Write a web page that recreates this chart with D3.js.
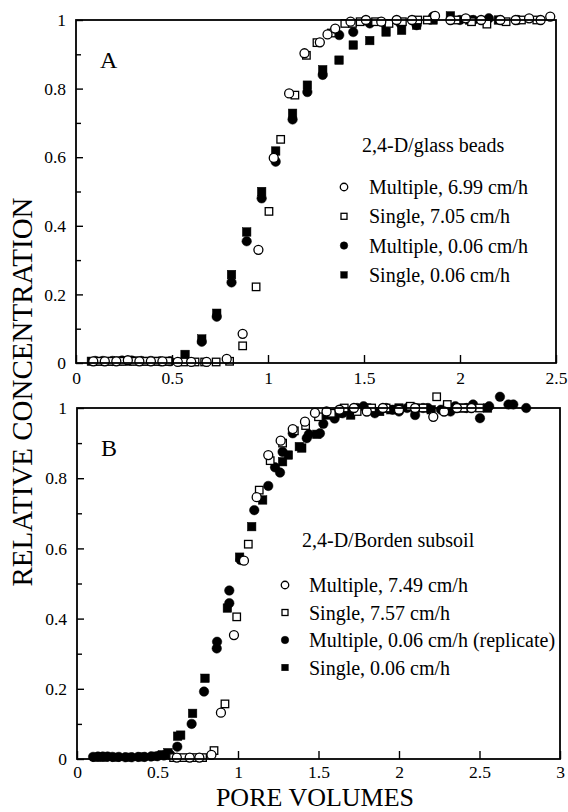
<!DOCTYPE html>
<html><head><meta charset="utf-8">
<script src="https://cdn.jsdelivr.net/npm/d3@7"></script>
<style>
body{margin:0;background:#fff;}
svg{display:block;font-family:"Liberation Serif","Times New Roman",serif;}
</style></head>
<body><svg id="c" width="568" height="812"></svg>
<script>
// ---------- data ----------
const yTickValues = [0, 0.2, 0.4, 0.6, 0.8, 1];
const yMinorValues = [0.1, 0.3, 0.5, 0.7, 0.9];
const xTickValuesA = [0, 0.5, 1, 1.5, 2, 2.5];
const xTickValuesB = [0, 0.5, 1, 1.5, 2, 2.5, 3];
const seriesNames = ["Multiple (fast)", "Single (fast)", "Multiple (slow)", "Single (slow)"];
const legendA = ["Multiple, 6.99 cm/h", "Single, 7.05 cm/h", "Multiple, 0.06 cm/h", "Single, 0.06 cm/h"];
const legendB = ["Multiple, 7.49 cm/h", "Single, 7.57 cm/h", "Multiple, 0.06 cm/h (replicate)", "Single, 0.06 cm/h"];
const titleA = "2,4-D/glass beads";
const titleB = "2,4-D/Borden subsoil";

const aMultFast = [[0.09,0.005],[0.15,0.005],[0.21,0.005],[0.27,0.008],[0.33,0.005],[0.39,0.005],[0.45,0.005],[0.53,0.003],[0.6,0.003],[0.68,0.003],[0.785,0.012],[0.868,0.085],[0.95,0.33],[1.03,0.598],[1.11,0.786],[1.19,0.903],[1.27,0.935],[1.31,0.958],[1.35,0.975],[1.43,0.995],[1.51,1.0],[1.59,0.995],[1.67,1.0],[1.75,1.0],[1.87,1.012],[1.95,1.0],[2.03,1.005],[2.11,1.0],[2.21,1.0],[2.29,1.0],[2.36,1.005],[2.42,1.0],[2.47,1.01]];
const aSingFast = [[0.12,0.005],[0.18,0.005],[0.24,0.005],[0.3,0.005],[0.36,0.005],[0.42,0.005],[0.48,0.005],[0.56,0.003],[0.62,0.003],[0.67,0.003],[0.73,0.003],[0.8,0.005],[0.868,0.05],[0.938,0.222],[1.005,0.442],[1.066,0.652],[1.14,0.781],[1.2,0.897],[1.255,0.934],[1.33,0.962],[1.4,0.99],[1.44,0.99],[1.48,0.995],[1.56,0.995],[1.63,0.99],[1.7,0.995],[1.78,1.0],[1.83,1.0],[1.98,1.0],[2.06,0.995],[2.14,0.988],[2.24,0.995],[2.32,1.0],[2.4,1.0]];
const aMultSlow = [[0.1,0.006],[0.14,0.006],[0.19,0.006],[0.24,0.007],[0.29,0.007],[0.34,0.006],[0.39,0.006],[0.44,0.005],[0.49,0.005],[0.655,0.062],[0.733,0.135],[0.81,0.235],[0.889,0.355],[0.967,0.48],[1.04,0.587],[1.128,0.71],[1.205,0.79],[1.285,0.84],[1.371,0.956],[1.444,0.965],[1.53,0.99],[1.61,0.988],[1.69,0.99],[1.774,0.985],[1.86,1.01],[2.0,1.0],[2.07,1.0],[2.15,1.005],[2.3,1.0]];
const aSingSlow = [[0.08,0.005],[0.12,0.005],[0.17,0.005],[0.22,0.006],[0.27,0.006],[0.32,0.006],[0.37,0.005],[0.42,0.005],[0.47,0.005],[0.568,0.025],[0.655,0.07],[0.733,0.145],[0.81,0.258],[0.889,0.382],[0.967,0.5],[1.04,0.618],[1.128,0.728],[1.205,0.81],[1.285,0.855],[1.37,0.883],[1.444,0.927],[1.53,0.94],[1.615,0.965],[1.696,0.97],[1.774,0.985],[1.86,1.0],[1.95,1.012],[2.05,1.0],[2.2,1.0]];

const bMultFast = [[0.62,0.004],[0.7,0.004],[0.76,0.004],[0.835,0.012],[0.894,0.132],[0.975,0.353],[1.037,0.565],[1.116,0.746],[1.188,0.866],[1.265,0.907],[1.34,0.94],[1.416,0.961],[1.478,0.986],[1.55,0.99],[1.63,0.995],[1.72,1.0],[1.8,0.99],[1.9,1.0],[2.0,0.995],[2.1,1.0],[2.213,0.975],[2.28,0.99],[2.36,1.0],[2.45,1.0]];
const bSingFast = [[0.6,0.004],[0.66,0.004],[0.72,0.004],[0.78,0.004],[0.851,0.024],[0.919,0.157],[0.992,0.405],[1.064,0.612],[1.132,0.766],[1.2,0.85],[1.277,0.9],[1.35,0.935],[1.42,0.95],[1.5,0.975],[1.58,0.985],[1.66,1.0],[1.74,0.99],[1.83,1.0],[1.92,1.0],[2.07,1.005],[2.15,1.0],[2.234,1.032],[2.3,1.01],[2.4,1.0],[2.5,1.0]];
const bMultSlow = [[0.1,0.006],[0.13,0.007],[0.16,0.007],[0.19,0.007],[0.22,0.006],[0.26,0.006],[0.3,0.005],[0.34,0.005],[0.38,0.006],[0.42,0.006],[0.46,0.007],[0.5,0.008],[0.54,0.01],[0.58,0.012],[0.623,0.035],[0.712,0.1],[0.789,0.192],[0.868,0.315],[0.87,0.334],[0.946,0.444],[0.946,0.48],[1.016,0.567],[1.101,0.709],[1.188,0.778],[1.23,0.831],[1.261,0.816],[1.277,0.875],[1.34,0.928],[1.427,0.914],[1.44,0.925],[1.509,0.928],[1.53,0.955],[1.6,0.97],[1.65,0.985],[1.7,0.99],[1.74,1.0],[1.78,1.005],[1.85,0.985],[1.92,1.0],[1.96,0.995],[2.0,0.99],[2.05,1.0],[2.1,0.98],[2.15,1.0],[2.18,1.0],[2.26,0.995],[2.32,0.99],[2.35,1.005],[2.42,1.0],[2.46,1.01],[2.503,0.971],[2.56,1.005],[2.627,1.032],[2.68,1.01],[2.71,1.01],[2.79,1.0]];
const bSingSlow = [[0.12,0.005],[0.17,0.005],[0.24,0.005],[0.32,0.005],[0.4,0.006],[0.48,0.008],[0.53,0.012],[0.565,0.018],[0.625,0.065],[0.644,0.068],[0.718,0.13],[0.795,0.23],[0.934,0.43],[1.01,0.575],[1.085,0.662],[1.153,0.738],[1.277,0.847],[1.313,0.866],[1.381,0.89],[1.396,0.886],[1.49,0.925],[1.551,0.98],[1.62,0.985],[1.7,0.98],[1.8,1.0],[1.88,0.99],[1.95,0.995],[2.0,1.0],[2.1,1.0],[2.2,0.995],[2.3,1.0],[2.4,1.0],[2.55,1.0]];

// ---------- drawing ----------
const svg = d3.select("#c");
const markerKinds = [
  {shape: "circle", fill: false},
  {shape: "square", fill: false},
  {shape: "circle", fill: true},
  {shape: "square", fill: true}
];

function drawMarker(g, kind, x, y, size) {
  if (kind.shape === "circle") {
    g.append("circle").attr("cx", x).attr("cy", y).attr("r", size / 2)
      .attr("fill", kind.fill ? "#000" : "#fff").attr("stroke", "#000")
      .attr("stroke-width", kind.fill ? 0.5 : 1.3);
  } else {
    const s = kind.fill ? size - 1 : size - 1.5;
    g.append("rect").attr("x", x - s / 2).attr("y", y - s / 2).attr("width", s).attr("height", s)
      .attr("fill", kind.fill ? "#000" : "#fff").attr("stroke", "#000")
      .attr("stroke-width", kind.fill ? 0.5 : 1.3);
  }
}

function panel(cfg) {
  const x = d3.scaleLinear().domain(cfg.xDomain).range([cfg.left, cfg.right]);
  const y = d3.scaleLinear().domain([0, 1]).range([cfg.bottom, cfg.top]);
  const g = svg.append("g");

  const order = [3, 2, 1, 0];
  order.forEach(i => {
    const gs = g.append("g");
    cfg.series[i].forEach(d => drawMarker(gs, markerKinds[i], x(d[0]), y(d[1]), i >= 2 ? 9.5 : 9));
  });

  const xAxis = d3.axisBottom(x).tickValues(cfg.xTicks).tickFormat(d3.format("~g"))
    .tickSizeInner(-8).tickSizeOuter(0).tickPadding(cfg.xPad);
  const gx = g.append("g").attr("transform", `translate(0,${cfg.bottom})`).call(xAxis);
  const yAxis = d3.axisLeft(y).tickValues(yTickValues).tickFormat(d3.format("~g"))
    .tickSizeInner(-7).tickSizeOuter(0).tickPadding(10);
  const gy = g.append("g").attr("transform", `translate(${cfg.left},0)`).call(yAxis);
  const yMinor = d3.axisLeft(y).tickValues(yMinorValues).tickFormat("")
    .tickSizeInner(-5).tickSizeOuter(0);
  const gym = g.append("g").attr("transform", `translate(${cfg.left},0)`).call(yMinor);
  [gx, gy, gym].forEach(a => {
    a.select(".domain").remove();
    a.selectAll("line").attr("stroke", "#000").attr("stroke-width", 1.4);
    a.selectAll("text").attr("font-size", 17.5).attr("fill", "#000")
      .attr("font-family", '"Liberation Serif","Times New Roman",serif');
  });

  g.append("rect").attr("x", cfg.left).attr("y", cfg.top)
    .attr("width", cfg.right - cfg.left).attr("height", cfg.bottom - cfg.top)
    .attr("fill", "none").attr("stroke", "#000").attr("stroke-width", 1.8);

  g.append("text").attr("x", cfg.left + 24).attr("y", cfg.top + 48)
    .attr("font-size", 24).text(cfg.letter);

  g.append("text").attr("x", cfg.titleX).attr("y", cfg.titleY).attr("dy", "0.35em")
    .attr("font-size", 20).text(cfg.title);
  cfg.legend.forEach((t, i) => {
    const yy = cfg.legY + i * cfg.legStep;
    drawMarker(g, markerKinds[i], cfg.markX, yy, 7.5);
    g.append("text").attr("x", cfg.textX).attr("y", yy).attr("dy", "0.35em")
      .attr("font-size", 20).text(t);
  });
}

panel({
  xDomain: [0, 2.5], left: 76, right: 556, top: 20, bottom: 363,
  xTicks: xTickValuesA, letter: "A", xPad: 9,
  series: [aMultFast, aSingFast, aMultSlow, aSingSlow],
  title: titleA, titleX: 362, titleY: 145,
  legend: legendA, legY: 187, legStep: 29.3, markX: 344, textX: 369
});
panel({
  xDomain: [0, 3], left: 77, right: 560, top: 408, bottom: 759,
  xTicks: xTickValuesB, letter: "B", xPad: 7,
  series: [bMultFast, bSingFast, bMultSlow, bSingSlow],
  title: titleB, titleX: 302, titleY: 540,
  legend: legendB, legY: 585, legStep: 27.5, markX: 285, textX: 309
});

svg.append("text").attr("transform", "translate(32,392) rotate(-90)")
  .attr("text-anchor", "middle").attr("font-size", 29).text("RELATIVE CONCENTRATION");
svg.append("text").attr("x", 315).attr("y", 806)
  .attr("text-anchor", "middle").attr("font-size", 26).text("PORE VOLUMES");
</script>
</body></html>
